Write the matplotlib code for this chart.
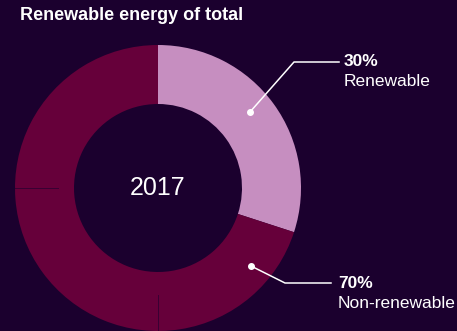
import matplotlib.pyplot as plt

# share of total energy
labels = ['Renewable', 'Non-renewable']
shares = [30, 70]
year = '2017'
title = 'Renewable energy of total'

BG = '#1b002e'
colors = ['#c68ec0', '#66003a']

plt.rcParams['font.family'] = ['Liberation Sans', 'DejaVu Sans']

fig = plt.figure(figsize=(4.57, 3.31), dpi=100, facecolor=BG)
ax = fig.add_axes([0, 0, 1, 1])
ax.set_facecolor(BG)

cx, cy, r_out, r_in = 158, 143, 143, 84
ax.pie(shares, colors=colors, startangle=90, counterclock=False,
       radius=r_out, center=(cx, cy),
       wedgeprops=dict(width=r_out - r_in, linewidth=0, antialiased=True))

# faint seams in the dark ring
ax.plot([cx - r_out, cx - 100], [cy, cy], color=BG, lw=0.7, alpha=0.6)
ax.plot([cx, cx], [cy - r_out, cy - 107], color=BG, lw=0.7, alpha=0.6)

ax.text(cx, cy, year, color='white', fontsize=18, ha='center', va='center')

# leader lines with dots
ax.plot([250, 294, 339], [331 - 112, 331 - 62, 331 - 62], color='white', lw=1.1)
ax.plot([250], [331 - 112], 'o', color='white', ms=4)
ax.plot([251, 285, 331], [331 - 266, 331 - 283, 331 - 283], color='white', lw=1.1)
ax.plot([251], [331 - 266], 'o', color='white', ms=4)

ax.text(344, 331 - 61, f'{shares[0]}%', color='white', fontsize=12.5,
        fontweight='bold', va='center', ha='left')
ax.text(344, 331 - 82, labels[0], color='white', fontsize=12.5,
        va='center', ha='left')
ax.text(338, 331 - 283, f'{shares[1]}%', color='white', fontsize=12.5,
        fontweight='bold', va='center', ha='left')
ax.text(338, 331 - 304, labels[1], color='white', fontsize=12.5,
        va='center', ha='left')

ax.text(20, 331 - 16, title, color='white', fontsize=13, fontweight='bold',
        va='center', ha='left')

ax.set_xlim(0, 457)
ax.set_ylim(0, 331)
ax.set_aspect('auto')
ax.axis('off')

fig.savefig('out.png', dpi=100, facecolor=BG)
